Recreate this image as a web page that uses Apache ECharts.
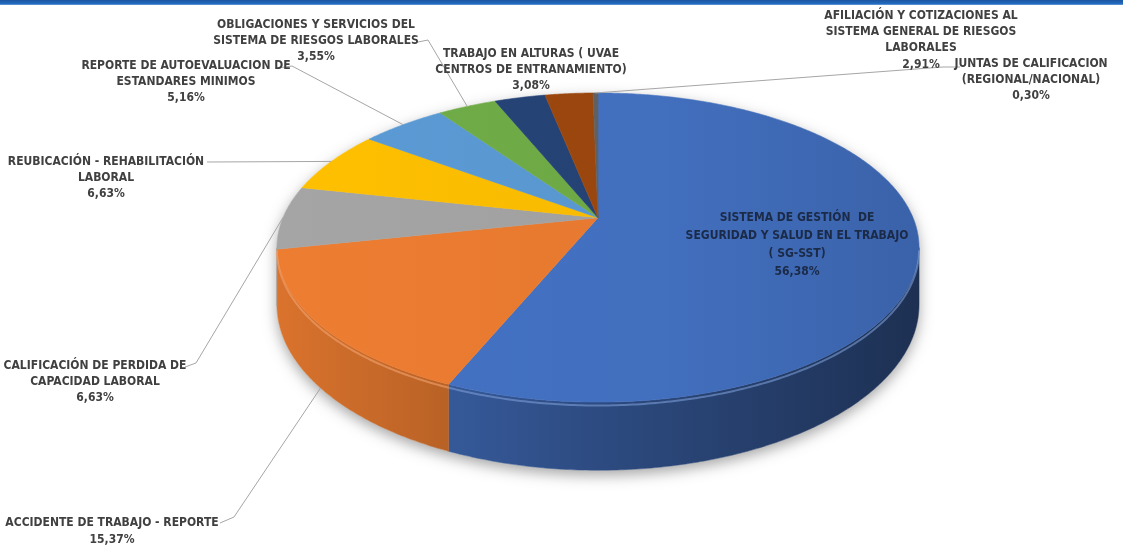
<!DOCTYPE html>
<html>
<head>
<meta charset="utf-8">
<script src="https://cdn.jsdelivr.net/npm/echarts@6/dist/echarts.min.js"></script>
<style>
  html, body { margin: 0; padding: 0; background: #ffffff; }
  #chart { width: 1123px; height: 547px; }
</style>
</head>
<body>
<div id="chart"></div>
<script>
// ---------------- data ----------------
const categories = [
  'SISTEMA DE GESTIÓN  DE\nSEGURIDAD Y SALUD EN EL TRABAJO\n( SG-SST)',
  'ACCIDENTE DE TRABAJO - REPORTE',
  'CALIFICACIÓN DE PERDIDA DE\nCAPACIDAD LABORAL',
  'REUBICACIÓN - REHABILITACIÓN\nLABORAL',
  'REPORTE DE AUTOEVALUACION DE\nESTANDARES MINIMOS',
  'OBLIGACIONES Y SERVICIOS DEL\nSISTEMA DE RIESGOS LABORALES',
  'TRABAJO EN ALTURAS ( UVAE\nCENTROS DE ENTRANAMIENTO)',
  'AFILIACIÓN Y COTIZACIONES AL\nSISTEMA GENERAL DE RIESGOS\nLABORALES',
  'JUNTAS DE CALIFICACION\n(REGIONAL/NACIONAL)'
];
const values = [56.38, 15.37, 6.63, 6.63, 5.16, 3.55, 3.08, 2.91, 0.30];

// ---------------- styles / layout ----------------
const colors = ['#4472C4', '#ED7D31', '#A5A5A5', '#FFC000', '#5B9BD5', '#70AD47', '#264478', '#9E480E', '#636363'];
const FONT = '"Liberation Sans Narrow", "Arial Narrow", "DejaVu Sans Condensed", sans-serif';
// label block centre, line height, text colour, leader start points, leader end on top (0) or bottom (1)
const labelLayout = [
  { x: 797, y: 245, lh: 18, fill: '#1b2a47', leader: null },
  { x: 112, y: 531, lh: 17, fill: '#404040', leader: [[220, 523], [234, 517]], end: 1 },
  { x: 95,  y: 382, lh: 16, fill: '#404040', leader: [[185, 367], [196, 363]], end: 0 },
  { x: 106, y: 178, lh: 16, fill: '#404040', leader: [[207, 162]], end: 0 },
  { x: 186, y: 82,  lh: 16, fill: '#404040', leader: [[278, 68], [292, 66]], end: 0 },
  { x: 316, y: 41,  lh: 16, fill: '#404040', leader: [[418, 42], [428, 40]], end: 0 },
  { x: 531, y: 70,  lh: 16, fill: '#404040', leader: null },
  { x: 921, y: 40,  lh: 16.3, fill: '#404040', leader: null },
  { x: 1031, y: 80, lh: 16, fill: '#404040', leader: [[960, 67], [943, 67]], end: 0 }
];
// 3D projection of the pie
const CX = 598, CY = 217.7, RX = 315, RY = 148.8, PERSP = 0.193, DEPTH = 55;
const X_LEFT = 275, X_RIGHT = 922;

const total = values.reduce((s, v) => s + v, 0);
const cumStart = [];
values.reduce((s, v, i) => { cumStart[i] = s; return s + v; }, 0);

function proj(t, z) {
  const u = Math.sin(t), v = -Math.cos(t);
  const w = 1 - PERSP * v;
  return [CX + RX * u / w, CY + (RY * v + DEPTH * z) / w];
}
function rgb(hex) {
  return [parseInt(hex.slice(1, 3), 16), parseInt(hex.slice(3, 5), 16), parseInt(hex.slice(5, 7), 16)];
}
function shade(hex, f) {
  const c = rgb(hex).map(x => Math.max(0, Math.min(255, Math.round(x * f))));
  return 'rgb(' + c.join(',') + ')';
}
function lighten(hex, t) {
  const c = rgb(hex).map(x => Math.round(x + (255 - x) * t));
  return 'rgb(' + c.join(',') + ')';
}
function arc(a0, a1, z) {
  const pts = [];
  const n = Math.max(2, Math.ceil(Math.abs(a1 - a0) / 0.01));
  for (let k = 0; k <= n; k++) pts.push(proj(a0 + (a1 - a0) * k / n, z));
  return pts;
}
const TS1 = Math.acos(-PERSP), TS2 = 2 * Math.PI - Math.acos(-PERSP);

function fmt(v) { return v.toFixed(2).replace('.', ',') + '%'; }

const chart = echarts.init(document.getElementById('chart'), null, { renderer: 'canvas' });

const option = {
  backgroundColor: '#ffffff',
  animation: false,
  graphic: [
    { type: 'rect', shape: { x: 0, y: 0, width: 1123, height: 5 },
      style: { fill: new echarts.graphic.LinearGradient(0, 0, 0, 1, [
        { offset: 0, color: '#1a55a0' }, { offset: 0.7, color: '#2369bd' }, { offset: 1, color: '#6aa0dc' }]) } }
  ],
  series: [{
    type: 'custom',
    coordinateSystem: 'none',
    data: values.map((v, i) => ({ value: [v, i], name: categories[i] })),
    renderItem: function (params, api) {
      const i = params.dataIndex;
      const v = api.value(0);
      const a0 = cumStart[i] / total * 2 * Math.PI;
      const a1 = (cumStart[i] + v) / total * 2 * Math.PI;
      const col = colors[i];
      const children = [];

      if (i === 0) {
        // soft shadow under the whole pie
        const sh = arc(TS1, TS2, 1).concat(arc(TS2, TS1 + 2 * Math.PI, 0));
        children.push({ type: 'polygon', z2: 0, shape: { points: sh },
          style: { fill: '#ffffff', shadowBlur: 14, shadowColor: 'rgba(0,0,0,0.35)', shadowOffsetY: 5 } });
      }

      // side wall (front, visible part)
      const s0 = Math.max(a0, TS1), s1 = Math.min(a1, TS2);
      if (s1 > s0) {
        const wall = arc(s0, s1, 0).concat(arc(s1, s0, 1));
        const wg = new echarts.graphic.LinearGradient(X_LEFT, 0, X_RIGHT, 0, [
          { offset: 0, color: shade(col, 0.92) },
          { offset: 0.5, color: shade(col, 0.66) },
          { offset: 1, color: shade(col, 0.42) }
        ], true);
        children.push({ type: 'polygon', z2: 1, shape: { points: wall },
          style: { fill: wg, stroke: wg, lineWidth: 0.5 } });
      }

      // top face
      const top = [[CX, CY]].concat(arc(a0, a1, 0));
      const tg = new echarts.graphic.LinearGradient(X_LEFT, 0, X_RIGHT, 0, [
        { offset: 0, color: shade(col, 1.0) },
        { offset: 0.6, color: shade(col, 0.97) },
        { offset: 1, color: shade(col, 0.86) }
      ], true);
      children.push({ type: 'polygon', z2: 2, shape: { points: top },
        style: { fill: tg, stroke: tg, lineWidth: 0.6 } });

      // bevel highlight along the front edge
      if (s1 > s0) {
        children.push({ type: 'polyline', z2: 3, shape: { points: arc(s0, s1, 0.05) },
          style: { stroke: lighten(col, 0.3), lineWidth: 2, opacity: 0.6, fill: null } });
      }

      // leader line
      const L = labelLayout[i];
      if (L.leader) {
        const am = (a0 + a1) / 2;
        const endPt = proj(am, L.end || 0);
        children.push({ type: 'polyline', z2: 4, shape: { points: L.leader.concat([endPt]) },
          style: { stroke: '#a6a6a6', lineWidth: 1, fill: null } });
      }

      // label text
      children.push({ type: 'text', z2: 5,
        style: { text: categories[i] + '\n' + fmt(v), x: L.x, y: L.y,
          align: 'center', verticalAlign: 'middle', lineHeight: L.lh,
          fontFamily: FONT, fontWeight: 'bold', fontSize: 12, fill: L.fill } });

      return { type: 'group', children: children };
    }
  }]
};
chart.setOption(option);
</script>
</body>
</html>
